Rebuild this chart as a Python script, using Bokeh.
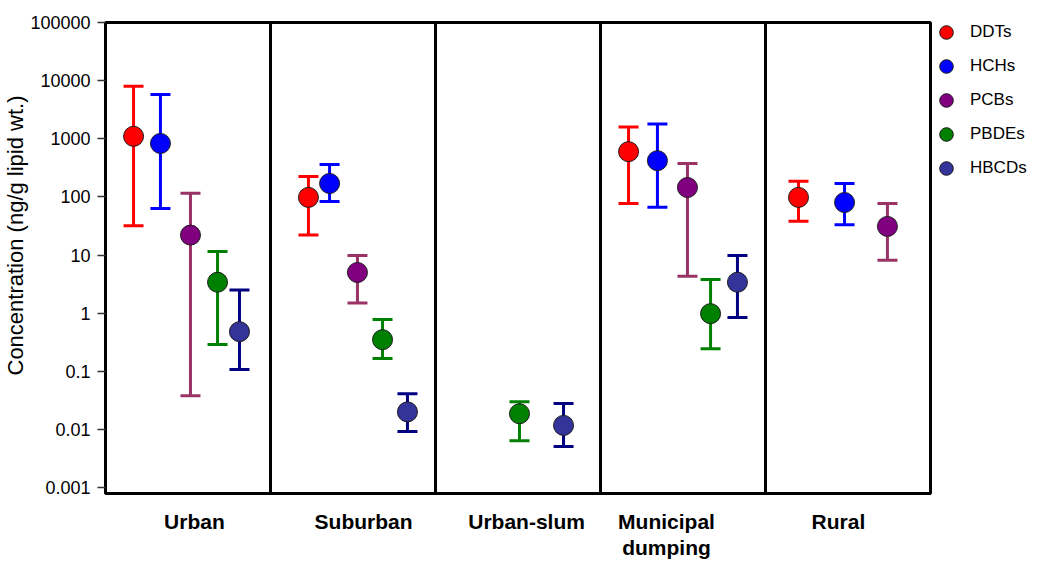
import math
from bokeh.plotting import figure
from bokeh.models import (ColumnDataSource, Range1d, FixedTicker, Span, Whisker, TeeHead,
                          Legend, LegendItem, CustomJSTickFormatter, Title)
from bokeh.embed import file_html
from bokeh.resources import INLINE

# ---------------- data ----------------
groups = ["Urban", "Suburban", "Urban-slum", "Municipal dumping", "Rural"]
series = ["DDTs", "HCHs", "PCBs", "PBDEs", "HBCDs"]

DDTs_mean  = [1100, 98, None, 600, 98]
DDTs_upper = [8000, 225, None, 1600, 185]
DDTs_lower = [32, 22, None, 77, 38]

HCHs_mean  = [830, 170, None, 420, 80]
HCHs_upper = [5800, 360, None, 1800, 170]
HCHs_lower = [63, 83, None, 66, 33]

PCBs_mean  = [22, 5.0, None, 145, 31]
PCBs_upper = [115, 9.8, None, 375, 77]
PCBs_lower = [0.038, 1.5, None, 4.3, 8.1]

PBDEs_mean  = [3.4, 0.35, 0.0186, 0.98, None]
PBDEs_upper = [11.5, 0.78, 0.030, 3.8, None]
PBDEs_lower = [0.29, 0.166, 0.0064, 0.245, None]

HBCDs_mean  = [0.48, 0.020, 0.0117, 3.4, None]
HBCDs_upper = [2.5, 0.041, 0.028, 9.8, None]
HBCDs_lower = [0.107, 0.0092, 0.0051, 0.84, None]

y_ticks = [0.001, 0.01, 0.1, 1, 10, 100, 1000, 10000, 100000]
y_title = "Concentration (ng/g lipid wt.)"

values = {
    "DDTs": (DDTs_mean, DDTs_upper, DDTs_lower),
    "HCHs": (HCHs_mean, HCHs_upper, HCHs_lower),
    "PCBs": (PCBs_mean, PCBs_upper, PCBs_lower),
    "PBDEs": (PBDEs_mean, PBDEs_upper, PBDEs_lower),
    "HBCDs": (HBCDs_mean, HBCDs_upper, HBCDs_lower),
}

# ---------------- layout / style ----------------
# position of each point inside its panel (fraction of panel width)
dodge = {
    "Urban":             {"DDTs": 0.170, "HCHs": 0.333, "PCBs": 0.515, "PBDEs": 0.679, "HBCDs": 0.812},
    "Suburban":          {"DDTs": 0.230, "HCHs": 0.358, "PCBs": 0.527, "PBDEs": 0.679, "HBCDs": 0.830},
    "Urban-slum":        {"PBDEs": 0.509, "HBCDs": 0.776},
    "Municipal dumping": {"DDTs": 0.170, "HCHs": 0.345, "PCBs": 0.527, "PBDEs": 0.667, "HBCDs": 0.830},
    "Rural":             {"DDTs": 0.200, "HCHs": 0.479, "PCBs": 0.739},
}
label_pos = [0.539, 1.564, 2.552, 3.40, 4.442]
label_text = {"Municipal dumping": "Municipal\ndumping"}

fill_colors = {"DDTs": "#ff0000", "HCHs": "#0000ff", "PCBs": "#800080",
               "PBDEs": "#008000", "HBCDs": "#333399"}
bar_colors = {"DDTs": "#ff0000", "HCHs": "#0000ff", "PCBs": "#993366",
              "PBDEs": "#008000", "HBCDs": "#000080"}

FONT = "Liberation Sans"

p = figure(frame_width=825, frame_height=471, output_backend="svg", toolbar_location=None,
           x_range=Range1d(0, 5), y_range=Range1d(10 ** -3.103, 1e5), y_axis_type="log",
           min_border_left=105, min_border_right=110, min_border_top=22, min_border_bottom=69)

p.background_fill_color = "white"
p.border_fill_color = "white"
p.outline_line_color = "black"
p.outline_line_width = 3
p.xgrid.grid_line_color = None
p.ygrid.grid_line_color = None

# y axis
p.yaxis.ticker = FixedTicker(ticks=y_ticks, minor_ticks=[])
p.yaxis.formatter = CustomJSTickFormatter(code="return String(tick);")
p.yaxis.axis_line_width = 3
p.yaxis.axis_line_color = "black"
p.yaxis.major_tick_out = 8
p.yaxis.major_tick_in = 0
p.yaxis.major_tick_line_width = 1.5
p.yaxis.major_tick_line_color = "#333333"
p.yaxis.minor_tick_line_color = None
p.yaxis.major_label_standoff = 7
p.yaxis.major_label_text_font = FONT
p.yaxis.major_label_text_font_size = "18px"
p.yaxis.major_label_text_color = "black"

p.add_layout(Title(text=y_title, align="left", offset=118, standoff=0,
                   text_font=FONT, text_font_size="22px", text_font_style="normal",
                   text_color="black"), "left")

# x axis
p.xaxis.ticker = FixedTicker(ticks=label_pos, minor_ticks=[])
p.xaxis.major_label_overrides = {pos: label_text.get(g, g) for pos, g in zip(label_pos, groups)}
p.xaxis.axis_line_color = None
p.xaxis.major_tick_line_color = None
p.xaxis.minor_tick_line_color = None
p.xaxis.major_label_standoff = 10
p.xaxis.major_label_text_font = FONT
p.xaxis.major_label_text_font_size = "21px"
p.xaxis.major_label_text_font_style = "bold"
p.xaxis.major_label_text_color = "black"
p.xaxis.major_label_text_line_height = 1.15

# panel dividers
for i in range(1, len(groups)):
    p.add_layout(Span(location=i, dimension="height", line_color="black", line_width=3))

items = []
for s in series:
    mean, upper, lower = values[s]
    xs, ms, us, ls = [], [], [], []
    for gi, g in enumerate(groups):
        if mean[gi] is None:
            continue
        xs.append(gi + dodge[g][s])
        ms.append(mean[gi])
        us.append(upper[gi])
        ls.append(lower[gi])
    src = ColumnDataSource(dict(x=xs, mean=ms, upper=us, lower=ls))
    c = bar_colors[s]
    w = Whisker(source=src, base="x", upper="upper", lower="lower", dimension="height",
                line_color=c, line_width=3,
                upper_head=TeeHead(size=20, line_color=c, line_width=3),
                lower_head=TeeHead(size=20, line_color=c, line_width=3))
    p.add_layout(w)
    r = p.scatter("x", "mean", source=src, size=20, fill_color=fill_colors[s],
                  line_color="#1a1a1a", line_width=1)
    items.append(LegendItem(label=s, renderers=[r]))

legend = Legend(items=items, location="top_left", orientation="vertical",
                glyph_width=46, glyph_height=34, label_standoff=1, padding=0, margin=-7,
                spacing=0, border_line_color=None, background_fill_alpha=0,
                label_text_font=FONT, label_text_font_size="17px", label_text_color="black")
p.add_layout(legend, "right")

open("out.html", "w").write(file_html(p, INLINE))
